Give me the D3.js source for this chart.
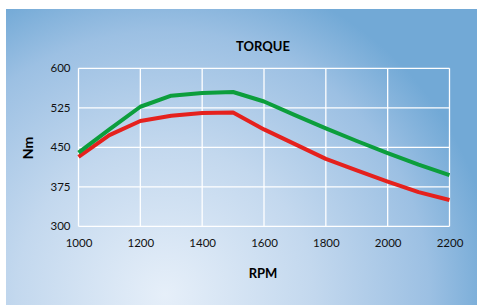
<!DOCTYPE html>
<html>
<head>
<meta charset="utf-8">
<script src="https://cdn.jsdelivr.net/npm/d3@7"></script>
<style>
  body { margin: 0; background: #fff; }
  svg { display: block; }
  .tick text { font-family: Lato, "Open Sans", sans-serif; font-size: 11.5px; fill: #111; }
</style>
</head>
<body>
<script>
// torque curves, Nm vs RPM
var rpm = [1000, 1100, 1200, 1300, 1400, 1500, 1600, 1700, 1800, 1900, 2000, 2100, 2200];
var greenNm = [440, 484, 527, 548, 553, 555, 537, 511, 486, 462, 439, 417, 397];
var redNm = [432, 473, 500, 510, 515, 516, 484, 456, 428, 406, 385, 365, 350];
var xTicks = [1000, 1200, 1400, 1600, 1800, 2000, 2200];
var yTicks = [300, 375, 450, 525, 600];

var W = 477, H = 305;
var svg = d3.select("body").append("svg").attr("width", W).attr("height", H);

// background panel gradient
var defs = svg.append("defs");
var grad = defs.append("radialGradient")
  .attr("id", "bg")
  .attr("gradientUnits", "userSpaceOnUse")
  .attr("cx", 165).attr("cy", 295).attr("r", 330);
grad.append("stop").attr("offset", "0%").attr("stop-color", "#e6eff9");
grad.append("stop").attr("offset", "45%").attr("stop-color", "#c3d8ee");
grad.append("stop").attr("offset", "80%").attr("stop-color", "#9cc0e3");
grad.append("stop").attr("offset", "100%").attr("stop-color", "#72a9d6");

svg.append("rect").attr("x", 6).attr("y", 9).attr("width", W - 6).attr("height", H - 9)
  .attr("fill", "url(#bg)");

var x = d3.scaleLinear().domain([1000, 2200]).range([78.5, 449.5]);
var y = d3.scaleLinear().domain([300, 600]).range([226.3, 68.3]);

// grid
svg.append("g").selectAll("line").data(xTicks).enter().append("line")
  .attr("x1", function(d) { return x(d); }).attr("x2", function(d) { return x(d); })
  .attr("y1", y(600)).attr("y2", y(300))
  .attr("stroke", "#fff").attr("stroke-width", 1.3);
svg.append("g").selectAll("line").data(yTicks).enter().append("line")
  .attr("x1", x(1000)).attr("x2", x(2200))
  .attr("y1", function(d) { return y(d); }).attr("y2", function(d) { return y(d); })
  .attr("stroke", "#fff").attr("stroke-width", 1.3);

// axes (labels only)
var xAxis = svg.append("g").attr("transform", "translate(0," + (y(300) + 9) + ")")
  .call(d3.axisBottom(x).tickValues(xTicks).tickSize(0).tickFormat(d3.format("d")));
xAxis.select(".domain").remove();
xAxis.selectAll("text").attr("dy", "0.75em");

var yAxis = svg.append("g").attr("transform", "translate(" + (x(1000) - 5) + ",0)")
  .call(d3.axisLeft(y).tickValues(yTicks).tickSize(0));
yAxis.select(".domain").remove();

// lines
var line = d3.line()
  .x(function(d, i) { return x(rpm[i]); })
  .y(function(d) { return y(d); });

svg.append("path").datum(redNm).attr("d", line)
  .attr("fill", "none").attr("stroke", "#e5211d").attr("stroke-width", 4)
  .attr("stroke-linejoin", "round");
svg.append("path").datum(greenNm).attr("d", line)
  .attr("fill", "none").attr("stroke", "#0c9e3c").attr("stroke-width", 4)
  .attr("stroke-linejoin", "round");

// titles
svg.append("text").attr("x", 263).attr("y", 51).attr("text-anchor", "middle")
  .style("font-family", "Lato, sans-serif").style("font-weight", "bold").style("font-size", "13px")
  .text("TORQUE");
svg.append("text").attr("x", 263).attr("y", 278).attr("text-anchor", "middle")
  .style("font-family", "Lato, sans-serif").style("font-weight", "bold").style("font-size", "13px")
  .text("RPM");
svg.append("text").attr("transform", "translate(33,148) rotate(-90)").attr("text-anchor", "middle")
  .style("font-family", "Lato, sans-serif").style("font-weight", "bold").style("font-size", "14px")
  .text("Nm");
</script>
</body>
</html>
